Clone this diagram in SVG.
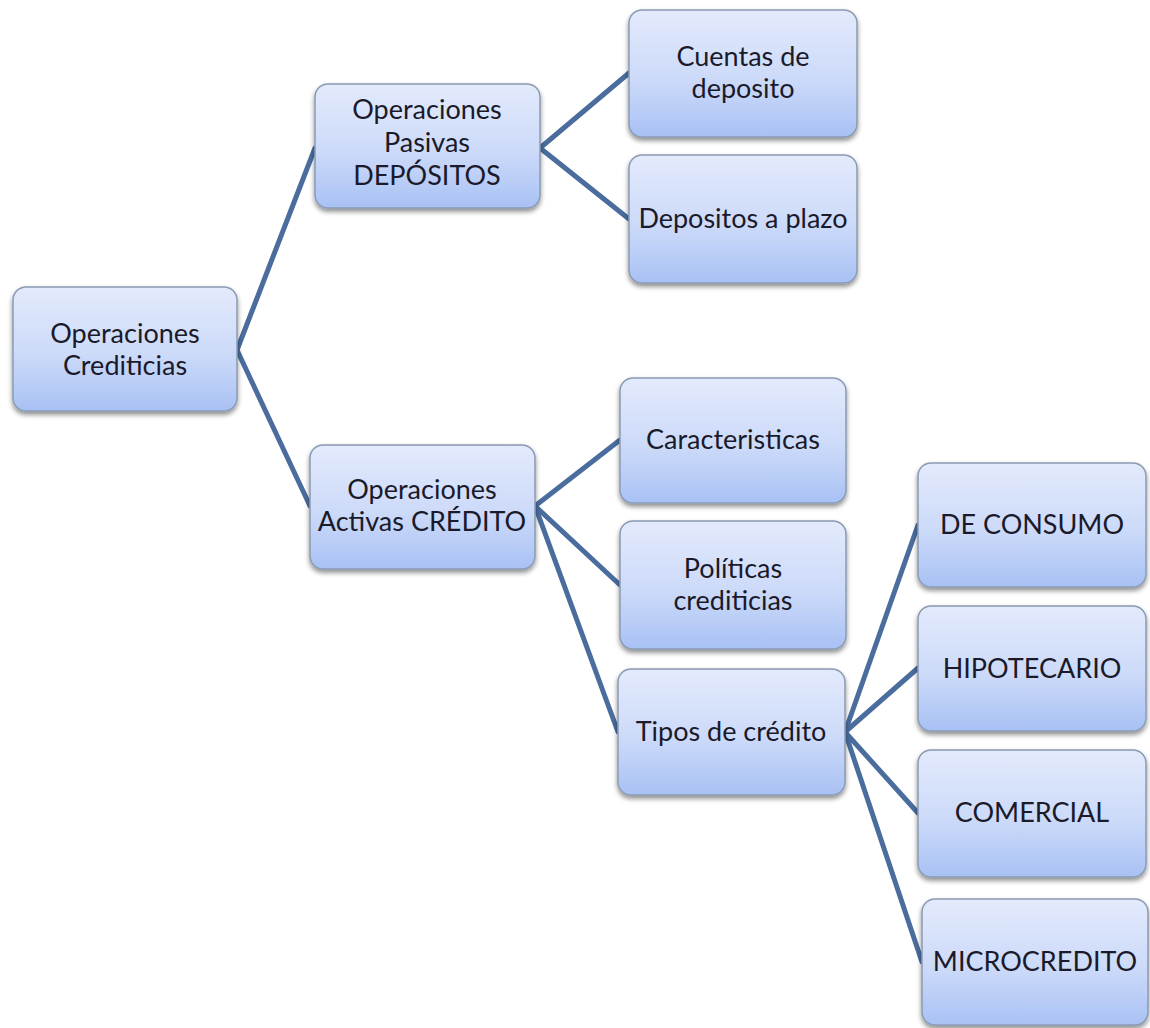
<svg xmlns="http://www.w3.org/2000/svg" width="1150" height="1028" viewBox="0 0 1150 1028">
  <defs>
    <linearGradient id="boxFill" x1="0" y1="0" x2="0" y2="1">
      <stop offset="0" stop-color="#e3eafc"/>
      <stop offset="0.55" stop-color="#ccdaf9"/>
      <stop offset="1" stop-color="#a8c1f4"/>
    </linearGradient>
    <filter id="shadow" x="-10%" y="-10%" width="120%" height="130%">
      <feGaussianBlur in="SourceAlpha" stdDeviation="2.5"/>
      <feOffset dx="0" dy="3" result="b"/>
      <feComponentTransfer><feFuncA type="linear" slope="0.45"/></feComponentTransfer>
      <feMerge><feMergeNode/><feMergeNode in="SourceGraphic"/></feMerge>
    </filter>
  </defs>
  <style>
    .box { fill: url(#boxFill); stroke: #8a9bb3; stroke-width: 1.5; filter: url(#shadow); }
    .lbl { font-family: Lato, "Open Sans", "Liberation Sans", sans-serif; font-size: 27px; fill: #1a1a2a; text-anchor: middle; }
    .link { stroke: #4a6d9e; stroke-width: 5; fill: none; stroke-linecap: round; }
  </style>
  <rect width="1150" height="1028" fill="#ffffff"/>

  <!-- connectors -->
  <g id="connectors">
    <path class="link" d="M237 350 L315 148 M237 350 L310 506"/>
    <path class="link" d="M540 148 L629 73 M540 148 L629 219"/>
    <path class="link" d="M535 506 L620 440 M535 506 L620 585 M535 506 L618 732"/>
    <path class="link" d="M845 732 L918 525 M845 732 L918 668 M845 732 L918 813 M845 732 L922 962"/>
  </g>

  <g id="n-root">
    <rect class="box" x="13" y="287" width="224" height="124" rx="13"/>
    <text class="lbl" x="125" y="343">Operaciones</text>
    <text class="lbl" x="125" y="375">Crediticias</text>
  </g>
  <g id="n-pasivas">
    <rect class="box" x="315" y="84" width="225" height="124" rx="13"/>
    <text class="lbl" x="427" y="119">Operaciones</text>
    <text class="lbl" x="427" y="152">Pasivas</text>
    <text class="lbl" x="427" y="185">DEPÓSITOS</text>
  </g>
  <g id="n-activas">
    <rect class="box" x="310" y="445" width="225" height="124" rx="13"/>
    <text class="lbl" x="422" y="499">Operaciones</text>
    <text class="lbl" x="422" y="531">Activas CRÉDITO</text>
  </g>
  <g id="n-cuentas">
    <rect class="box" x="629" y="10" width="228" height="127" rx="13"/>
    <text class="lbl" x="743" y="66">Cuentas de</text>
    <text class="lbl" x="743" y="98">deposito</text>
  </g>
  <g id="n-plazo">
    <rect class="box" x="629" y="155" width="228" height="128" rx="13"/>
    <text class="lbl" x="743" y="228">Depositos a plazo</text>
  </g>
  <g id="n-caract">
    <rect class="box" x="620" y="378" width="226" height="125" rx="13"/>
    <text class="lbl" x="733" y="449">Caracteristicas</text>
  </g>
  <g id="n-politicas">
    <rect class="box" x="620" y="521" width="226" height="128" rx="13"/>
    <text class="lbl" x="733" y="578">Políticas</text>
    <text class="lbl" x="733" y="610">crediticias</text>
  </g>
  <g id="n-tipos">
    <rect class="box" x="618" y="669" width="227" height="126" rx="13"/>
    <text class="lbl" x="731" y="741">Tipos de crédito</text>
  </g>
  <g id="n-consumo">
    <rect class="box" x="918" y="463" width="228" height="124" rx="13"/>
    <text class="lbl" x="1032" y="534">DE CONSUMO</text>
  </g>
  <g id="n-hipotecario">
    <rect class="box" x="918" y="606" width="228" height="125" rx="13"/>
    <text class="lbl" x="1032" y="678">HIPOTECARIO</text>
  </g>
  <g id="n-comercial">
    <rect class="box" x="918" y="750" width="228" height="127" rx="13"/>
    <text class="lbl" x="1032" y="822">COMERCIAL</text>
  </g>
  <g id="n-micro">
    <rect class="box" x="922" y="899" width="226" height="126" rx="13"/>
    <text class="lbl" x="1035" y="971">MICROCREDITO</text>
  </g>
</svg>
